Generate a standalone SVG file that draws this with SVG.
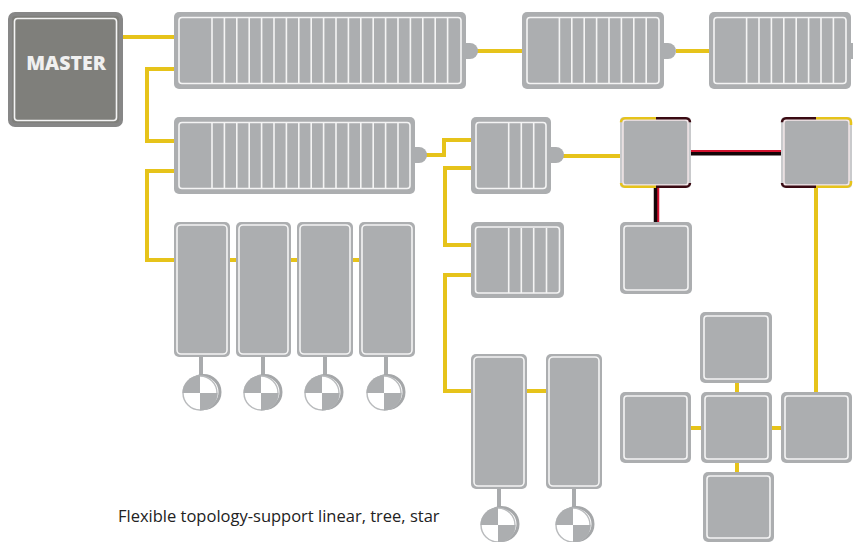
<svg xmlns="http://www.w3.org/2000/svg" width="853" height="542" viewBox="0 0 853 542">
<style>
.bg{fill:#fff}
.y{fill:none;stroke:#e6c31a;stroke-width:4}
.rb{fill:none;stroke:#d3122f;stroke-width:2.500}
.k{fill:none;stroke:#140608;stroke-width:3.500}
.o{fill:#acaeb0}
.h{fill:#c9cacc}
.i{fill:#acaeb0;stroke:#f4f4f4;stroke-width:1.6}
.p{fill:#acaeb0;stroke:#f6e8ea;stroke-width:1.4}
.d{stroke:#f4f4f4;stroke-width:1.6}
.s{stroke:#a9abad;stroke-width:4;fill:none}
.c{fill:#fff;stroke:#b9bbbd;stroke-width:1.400}
.sh{fill:#fff;stroke:#a5a7a9;stroke-width:3}
.q{fill:#acaeb0}
.by{fill:none;stroke:#e6c31a;stroke-width:2.500}
.bk{fill:none;stroke:#3a0a12;stroke-width:2.500}
text{font-family:"Open Sans","Noto Sans","Liberation Sans",sans-serif}
</style>
<defs>
<g id="disc">
<circle class="sh" cx="3.500" cy="-1" r="16.500"/>
<circle class="c" cx="0" cy="0" r="17"/>
<path class="q" d="M0,0V-17.500A17.500,17.500 0 0 0 -17.500,0Z"/>
<path class="q" d="M0,0V17.500A17.500,17.500 0 0 0 17.500,0Z"/>
</g>
</defs>
<rect class="bg" width="853" height="542"/>
<g id="connectors">
<path class="y" d="M123,37H176"/>
<path class="y" d="M176,69H147V141H176"/>
<path class="y" d="M176,171H147V260H176"/>
<path class="y" d="M228,260H238M289,260H299M351,260H360"/>
<path class="y" d="M476,51H524"/>
<path class="y" d="M676,51H711"/>
<path class="y" d="M425,155H444V140H473"/>
<path class="y" d="M473,168H445V245H473"/>
<path class="y" d="M473,275H445V391H473"/>
<path class="y" d="M525,391H548"/>
<path class="y" d="M562,156H622"/>
<path class="y" d="M816,186V394"/>
<path class="y" d="M737,381V394M737,461V474M689,428H703M770,428H783"/>
<path class="rb" d="M689,151.200H783"/>
<path class="k" d="M689,153.800H783"/>
<path class="rb" d="M658,186V222"/>
<path class="k" d="M655.500,186V222"/>
</g>
<g id="master">
<rect x="10" y="14" width="111" height="111" rx="5" fill="#7f7f7b" stroke="#878787" stroke-width="4"/>
<rect x="14.500" y="18.500" width="102" height="102" rx="3" fill="#7f7f7b" stroke="#f4f4f4" stroke-width="1.6"/>
<text x="66" y="70" font-size="19.500" font-weight="800" fill="#f0f0f0" text-anchor="middle">MASTER</text>
</g>
<g id="rail-1">
<path class="o" d="M460,43H470a8,8 0 0 1 0,16H460Z"/>
<rect class="o" x="174" y="12" width="292" height="77" rx="5"/>
<rect class="i" x="179" y="17.500" width="282" height="66" rx="3"/>
<path class="d" d="M212,18V83M224.400,18V83M236.800,18V83M249.200,18V83M261.600,18V83M274,18V83M286.400,18V83M298.800,18V83M311.200,18V83M323.600,18V83M336,18V83M348.400,18V83M360.800,18V83M373.200,18V83M385.600,18V83M398,18V83M410.400,18V83M422.800,18V83M435.200,18V83M447.600,18V83"/>
</g>
<g id="rail-2">
<path class="o" d="M658,43H668a8,8 0 0 1 0,16H658Z"/>
<rect class="o" x="522" y="12" width="142" height="77" rx="5"/>
<rect class="i" x="527" y="17.500" width="132" height="66" rx="3"/>
<path class="d" d="M559.400,18V83M571.800,18V83M584.200,18V83M596.600,18V83M609,18V83M621.400,18V83M633.800,18V83M646.200,18V83"/>
</g>
<g id="rail-3">
<path class="o" d="M845,43H853V59H845Z"/>
<rect class="o" x="709" y="12" width="142" height="77" rx="5"/>
<rect class="i" x="714" y="17.500" width="132" height="66" rx="3"/>
<path class="d" d="M746.600,18V83M759,18V83M771.400,18V83M783.800,18V83M796.200,18V83M808.600,18V83M821,18V83M833.400,18V83"/>
</g>
<g id="rail-4">
<path class="o" d="M409,147H419a8,8 0 0 1 0,16H409Z"/>
<rect class="o" x="174" y="117" width="241" height="77" rx="5"/>
<rect class="i" x="179" y="122.500" width="231" height="66" rx="3"/>
<path class="d" d="M212,123V188M224.400,123V188M236.800,123V188M249.200,123V188M261.600,123V188M274,123V188M286.400,123V188M298.800,123V188M311.200,123V188M323.600,123V188M336,123V188M348.400,123V188M360.800,123V188M373.200,123V188M385.600,123V188M398,123V188"/>
</g>
<g id="rail-5">
<path class="o" d="M545,147H556a8,8 0 0 1 0,16H545Z"/>
<rect class="o" x="471" y="117" width="80" height="77" rx="5"/>
<rect class="i" x="476" y="122.500" width="70" height="66" rx="3"/>
<path class="d" d="M508.700,123V188M521.300,123V188M533.700,123V188"/>
</g>
<g id="rail-6">
<rect class="o" x="471" y="222" width="93" height="76" rx="5"/>
<rect class="i" x="475.500" y="227" width="84" height="66" rx="3"/>
<path class="d" d="M508.700,228V293M521.300,228V293M533.700,228V293M546.500,228V293"/>
</g>
<g id="hub-left">
<rect class="h" x="620" y="117" width="71" height="71" rx="4"/>
<rect class="p" x="623" y="120" width="65" height="65" rx="3"/>
<path class="by" d="M656,118.200H625a4,4 0 0 0 -4,4M621,183a4,4 0 0 0 4,3.800H656"/>
<path class="bk" d="M656,118.200H686a4,4 0 0 1 4,4M690,183a4,4 0 0 1 -4,3.800H656"/>
</g>
<g id="hub-right">
<rect class="h" x="781" y="117" width="71" height="71" rx="4"/>
<rect class="p" x="784" y="120" width="65" height="65" rx="3"/>
<path class="bk" d="M816,118.200H786a4,4 0 0 0 -4,4M782,183a4,4 0 0 0 4,3.800H816"/>
<path class="by" d="M816,118.200H847a4,4 0 0 1 4,4V125M851,181V183a4,4 0 0 1 -4,3.800H816"/>
</g>
<g id="box-below-hub">
<rect class="o" x="620" y="222" width="72" height="72" rx="5"/>
<rect class="i" x="624" y="226" width="64" height="64" rx="3"/>
</g>
<g id="col-1"><rect class="o" x="174" y="222" width="56" height="135" rx="5"/><rect class="i" x="177" y="225" width="50" height="129" rx="4"/></g>
<g id="col-2"><rect class="o" x="236" y="222" width="55" height="135" rx="5"/><rect class="i" x="239" y="225" width="49" height="129" rx="4"/></g>
<g id="col-3"><rect class="o" x="297" y="222" width="56" height="135" rx="5"/><rect class="i" x="300" y="225" width="50" height="129" rx="4"/></g>
<g id="col-4"><rect class="o" x="359" y="222" width="56" height="135" rx="5"/><rect class="i" x="362" y="225" width="50" height="129" rx="4"/></g>
<g id="disc-1"><path class="s" d="M201,357V376"/><use href="#disc" x="200" y="393"/></g>
<g id="disc-2"><path class="s" d="M263,357V376"/><use href="#disc" x="261" y="393"/></g>
<g id="disc-3"><path class="s" d="M325,357V376"/><use href="#disc" x="322" y="393"/></g>
<g id="disc-4"><path class="s" d="M386,357V376"/><use href="#disc" x="384" y="393"/></g>
<g id="col-5"><rect class="o" x="471" y="354" width="56" height="135" rx="5"/><rect class="i" x="474" y="357" width="50" height="129" rx="4"/></g>
<g id="col-6"><rect class="o" x="546" y="354" width="56" height="135" rx="5"/><rect class="i" x="549" y="357" width="50" height="129" rx="4"/></g>
<g id="disc-5"><path class="s" d="M499,489V508"/><use href="#disc" x="498" y="525"/></g>
<g id="disc-6"><path class="s" d="M574,489V508"/><use href="#disc" x="573" y="525"/></g>
<g id="star-top"><rect class="o" x="700" y="312" width="72" height="71" rx="5"/><rect class="i" x="704" y="316" width="64" height="63" rx="3"/></g>
<g id="star-center"><rect class="o" x="701" y="392" width="71" height="71" rx="5"/><rect class="i" x="705" y="396" width="63" height="63" rx="3"/></g>
<g id="star-left"><rect class="o" x="620" y="392" width="71" height="71" rx="5"/><rect class="i" x="624" y="396" width="63" height="63" rx="3"/></g>
<g id="star-right"><rect class="o" x="781" y="392" width="71" height="71" rx="5"/><rect class="i" x="785" y="396" width="63" height="63" rx="3"/></g>
<g id="star-bottom"><rect class="o" x="703" y="472" width="71" height="70" rx="5"/><rect class="i" x="707" y="476" width="63" height="62" rx="3"/></g>
<text x="118" y="522" font-size="16.500" fill="#222">Flexible topology-support linear, tree, star</text>
</svg>
